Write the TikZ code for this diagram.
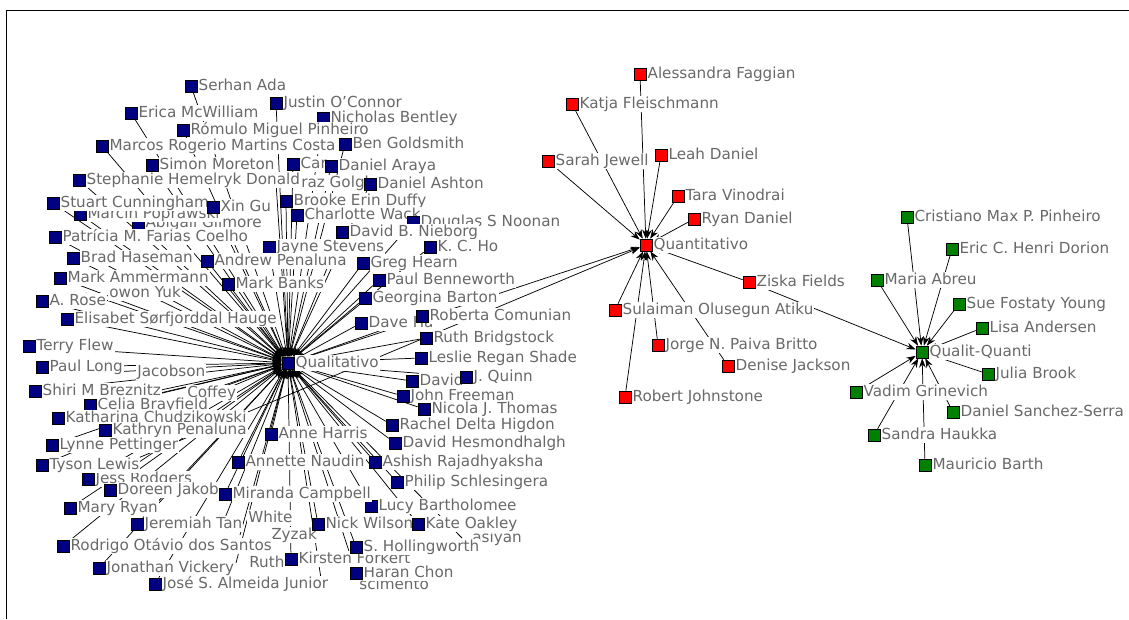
\documentclass[tikz,border=0pt]{standalone}
\usepackage{fontspec}
\newfontfamily\tagfont{DejaVu Sans}
\usetikzlibrary{arrows.meta, backgrounds}
\definecolor{qualblue}{RGB}{0,0,128}
\definecolor{quantred}{RGB}{255,0,0}
\definecolor{mixgreen}{RGB}{0,128,0}
\definecolor{tagtext}{RGB}{105,105,105}

\tikzset{
  actor/.style={rectangle, draw=black, line width=0.4pt, minimum size=9pt, inner sep=0pt},
  qual/.style={actor, fill=qualblue},
  quant/.style={actor, fill=quantred},
  mixed/.style={actor, fill=mixgreen},
  tag/.style={fill=white, text=tagtext, inner xsep=0.8pt, inner ysep=0.3pt,
    text height=8.6pt, text depth=2.6pt, font=\tagfont\fontsize{11.4}{13}\selectfont},
  tie/.style={line width=0.55pt, -{Stealth[length=7pt,width=5pt]}}
}

\begin{document}
\begin{tikzpicture}[x=0.75pt, y=-0.75pt]
\useasboundingbox (0,0) rectangle (1129,619);

% frame
\draw[line width=0.75pt] (6.5,619) -- (6.5,10) -- (1129,10);

% the three groups
\node[qual, label={[tag]right:Qualitativo}] (qualhub) at (288,363) {};
\node[quant, label={[tag]right:Quantitativo}] (quanthub) at (646,245) {};
\node[mixed, label={[tag]right:Qualit-Quanti}] (mixhub) at (922,352) {};

% half hidden names (their squares lie under other labels)
\foreach \id/\px/\py/\tx/\txt in {raz/276/183/300/{raz Golghe}, owon/86/293/108/{owon Yuk},
    jacobson/112/372/136/{Jacobson}, coffey/160/393/186/{Coffey}, white/225/518/247/{White},
    zyzak/240/535/270/{Zyzak}, ruthf/236/563/248/{Ruth}, scimento/322/585/358/{scimento},
    asiyan/462/538/471/{asiyan}} {
  \coordinate (\id) at (\px,\py);
  \node[tag, anchor=west] (\id-tag) at (\tx,\py) {\txt};
  \begin{scope}[on background layer]
    \draw[tie] (\id) -- (qualhub);
  \end{scope}
}

% Qualitativo group
\foreach \id/\px/\py/\txt in {serhan/191/86/{Serhan Ada}, justin/276/103/{Justin O’Connor},
    erica/131/113/{Erica McWilliam}, nicholas/323/118/{Nicholas Bentley},
    romulo/183/130/{Rómulo Miguel Pinheiro}, ben/345/144/{Ben Goldsmith},
    marcos/102/146/{Marcos Rogerio Martins Costa}, simon/152/165/{Simon Moreton},
    carl/293/164/{Car}, araya/331/166/{Daniel Araya},
    stephanie/79/180/{Stephanie Hemelryk Donald}, ashton/370/184/{Daniel Ashton},
    brooke/286/201/{Brooke Erin Duffy}, abigail/138/223/{Abigail Gilmore},
    marcin/80/214/{Marcin Poprawski}, stuart/53/203/{Stuart Cunningham}, xingu/213/207/{Xin Gu},
    charlotte/297/215/{Charlotte Wack}, douglas/413/222/{Douglas S Noonan},
    patricia/55/237/{Patrícia M. Farias Coelho}, nieborg/342/232/{David B. Nieborg},
    jayne/269/247/{Jayne Stevens}, kcho/430/247/{K. C. Ho}, brad/73/258/{Brad Haseman},
    andrew/207/261/{Andrew Penaluna}, greg/363/263/{Greg Hearn},
    ammermann/60/278/{Mark Ammermann}, mbanks/228/284/{Mark Banks},
    benneworth/379/280/{Paul Benneworth}, rose/42/301/{A. Rose}, georgina/365/298/{Georgina Barton},
    elisabet/67/319/{Elisabet Sørfjorddal Hauge}, daveha/361/323/{Dave Ha},
    roberta/422/316/{Roberta Comunian}, bridgstock/426/338/{Ruth Bridgstock},
    terry/29/346/{Terry Flew}, leslie/421/358/{Leslie Regan Shade}, plong/42/367/{Paul Long},
    freeman/403/396/{John Freeman}, davidq/412/381/{David}, quinn/466/377/{J. Quinn},
    shiri/35/391/{Shiri M Breznitz}, nicola/424/409/{Nicola J. Thomas},
    celia/90/405/{Celia Brayfield}, katharina/58/418/{Katharina Chudzikowski},
    kathryn/105/430/{Kathryn Penaluna}, rachel/392/425/{Rachel Delta Higdon},
    anne/271/434/{Anne Harris}, lynne/52/445/{Lynne Pettinger},
    hesmond/395/443/{David Hesmondhalgh}, annette/238/462/{Annette Naudin},
    ashish/375/462/{Ashish Rajadhyaksha}, jess/88/479/{Jess Rodgers}, tyson/42/465/{Tyson Lewis},
    philip/397/482/{Philip Schlesingera}, doreen/110/490/{Doreen Jakob},
    lucy/371/506/{Lucy Bartholomee}, miranda/225/494/{Miranda Campbell}, mary/70/508/{Mary Ryan},
    nick/318/524/{Nick Wilson}, kate/418/524/{Kate Oakley}, jeremiah/137/524/{Jeremiah Tan},
    rodrigo/63/546/{Rodrigo Otávio dos Santos}, haran/356/573/{Haran Chon},
    kirsten/291/559/{Kirsten Forkert}, hollingworth/356/547/{S. Hollingworth},
    jonathan/99/568/{Jonathan Vickery}, jose/155/584/{José S. Almeida Junior}} {
  \node[qual, label={[tag]right:\txt}] (\id) at (\px,\py) {};
  \begin{scope}[on background layer]
    \draw[tie] (\id) -- (qualhub);
  \end{scope}
}

% Quantitativo group
\foreach \id/\px/\py/\txt in {alessandra/640/74/{Alessandra Faggian}, katja/572/104/{Katja Fleischmann},
    sarah/548/161/{Sarah Jewell}, leah/661/155/{Leah Daniel}, tara/678/196/{Tara Vinodrai},
    ryan/694/219/{Ryan Daniel}, ziska/749/282/{Ziska Fields},
    sulaiman/615/310/{Sulaiman Olusegun Atiku}, jorge/658/345/{Jorge N. Paiva Britto},
    denise/728/366/{Denise Jackson}, robert/625/397/{Robert Johnstone}} {
  \node[quant, label={[tag]right:\txt}] (\id) at (\px,\py) {};
  \begin{scope}[on background layer]
    \draw[tie] (\id) -- (quanthub);
  \end{scope}
}

% Qualit-Quanti group
\foreach \id/\px/\py/\txt in {cristiano/907/217/{Cristiano Max P. Pinheiro},
    eric/952/249/{Eric C. Henri Dorion}, maria/877/280/{Maria Abreu},
    sue/959/304/{Sue Fostaty Young}, lisa/982/328/{Lisa Andersen}, julia/988/374/{Julia Brook},
    vadim/856/392/{Vadim Grinevich}, sanchez/953/412/{Daniel Sanchez-Serra},
    sandra/874/435/{Sandra Haukka}, mauricio/925/465/{Mauricio Barth}} {
  \node[mixed, label={[tag]right:\txt}] (\id) at (\px,\py) {};
  \begin{scope}[on background layer]
    \draw[tie] (\id) -- (mixhub);
  \end{scope}
}

% ties between the groups
\begin{scope}[on background layer]
  \draw[tie] (qualhub) -- (quanthub);
  \draw[tie] (jess) -- (quanthub);
  \draw[tie] (ziska) -- (mixhub);
\end{scope}

\end{tikzpicture}
\end{document}
